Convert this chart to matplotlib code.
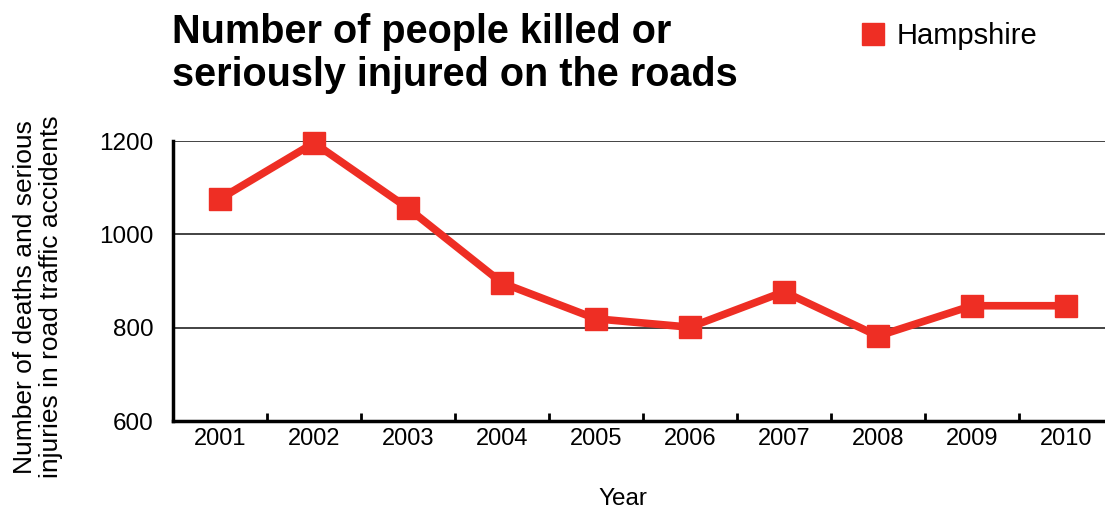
import matplotlib
matplotlib.use("Agg")
import matplotlib.pyplot as plt
from matplotlib.lines import Line2D

years = ["2001", "2002", "2003", "2004", "2005", "2006", "2007", "2008", "2009", "2010"]
hampshire = [1076, 1196, 1056, 896, 819, 801, 877, 782, 847, 847]
yticks = [600, 800, 1000, 1200]

plt.rcParams['font.family'] = ['Liberation Sans', 'DejaVu Sans']
red = '#EE2E24'
W, H = 1105, 511

fig = plt.figure(figsize=(W/100, H/100), dpi=100)
ax = fig.add_axes([173/W, 1-421/H, 940/W, 280/H])

x = list(range(len(years)))
ax.plot(x, hampshire, color=red, lw=5.5, marker='s', ms=16, mec=red, mfc=red, zorder=3, clip_on=False)

ax.set_xlim(-0.5, len(years)-0.5)
ax.set_ylim(600, 1200)
ax.set_yticks(yticks)
ax.set_yticklabels([str(v) for v in yticks], fontsize=17.5)
for v in yticks[1:]:
    ax.axhline(v, color='#222222', lw=1.2, zorder=1)

ax.set_xticks([i+0.5 for i in range(len(years)-1)])
ax.set_xticklabels([])
ax.set_xticks(x, minor=True)
ax.set_xticklabels(years, minor=True, fontsize=17)
ax.tick_params(axis='x', which='major', direction='in', length=6, width=2, color='black')
ax.tick_params(axis='x', which='minor', length=0, pad=5)
ax.tick_params(axis='y', length=0, pad=14)

for s in ['top', 'right']:
    ax.spines[s].set_visible(False)
ax.spines['left'].set_linewidth(2.5)
ax.spines['bottom'].set_linewidth(2.5)

fig.text(623/W, 1-499/H, "Year", fontsize=17.5, ha='center', va='center')
fig.text(38/W, 1-297/H, "Number of deaths and serious\ninjuries in road traffic accidents",
         fontsize=19, rotation=90, ha='center', va='center', linespacing=1.08)

fig.text(172/W, 1-13/H, "Number of people killed or\nseriously injured on the roads",
         fontsize=28.5, fontweight='bold', va='top', ha='left', linespacing=1.17)

handle = Line2D([], [], color=red, marker='s', ms=15.5, lw=0)
fig.legend([handle], ["Hampshire"], loc='center left', bbox_to_anchor=(853/W, 1-36/H),
           frameon=False, fontsize=21, handletextpad=0.1, handlelength=1.4, borderaxespad=0, borderpad=0)

fig.savefig("out.png", dpi=100)
